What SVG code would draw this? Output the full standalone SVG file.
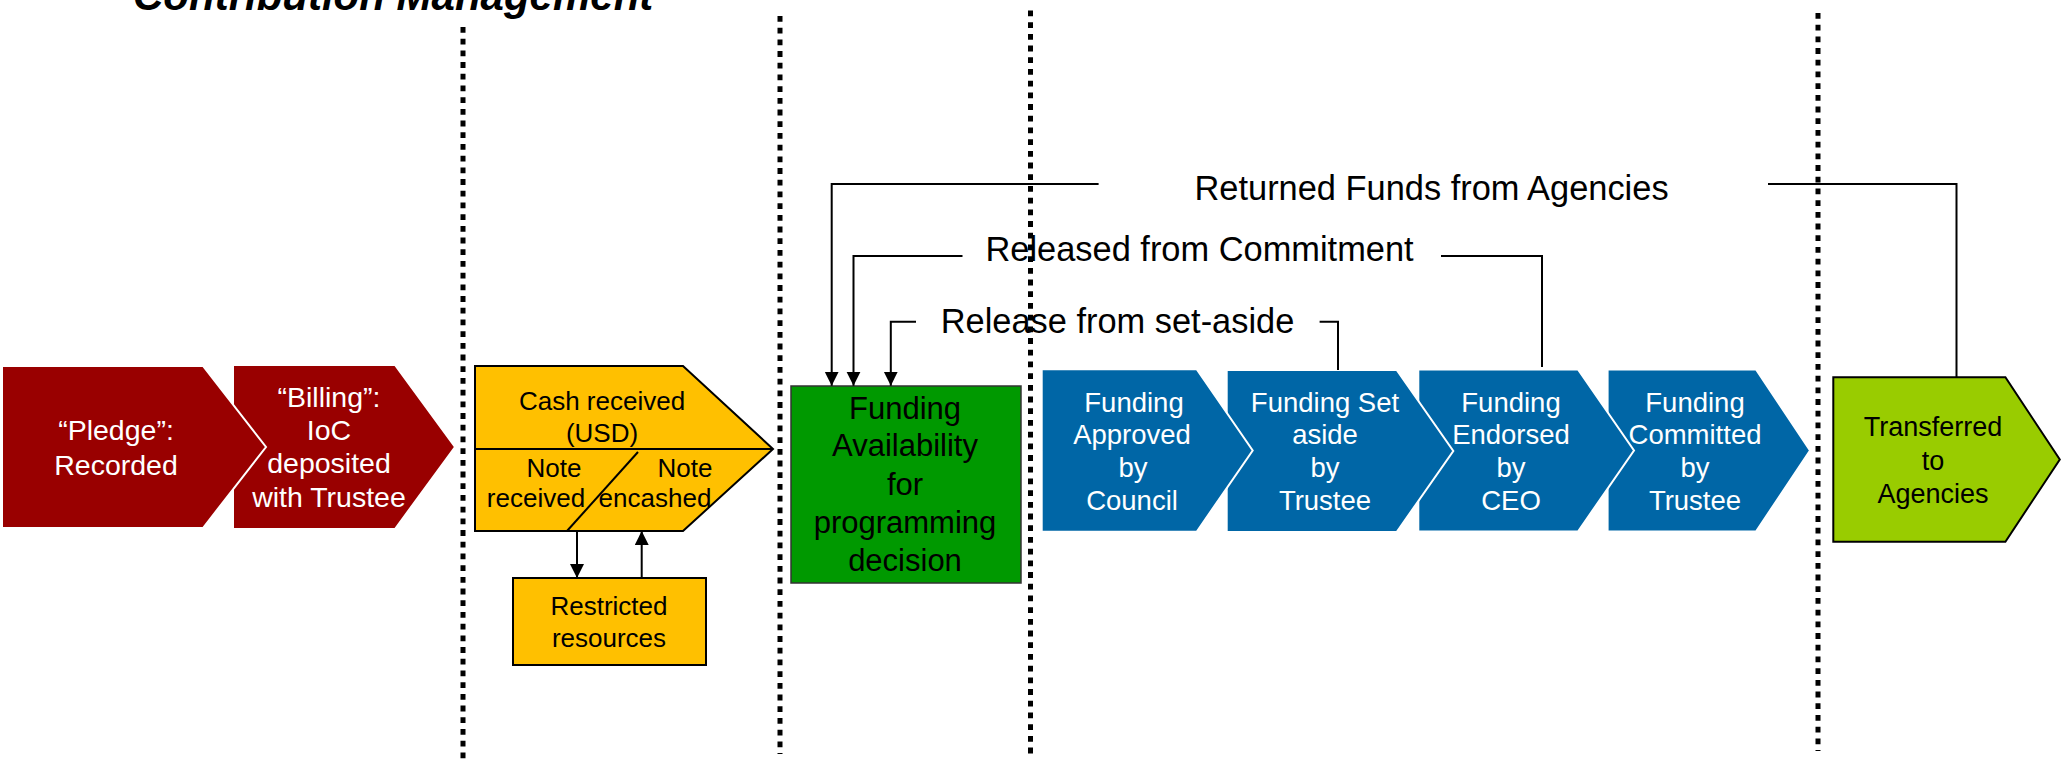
<svg xmlns="http://www.w3.org/2000/svg" width="2068" height="769" viewBox="0 0 2068 769">
<style>
text{font-family:"Liberation Sans",Arial,sans-serif;}
.w{fill:#ffffff;text-anchor:middle;}
.b{fill:#000000;text-anchor:middle;}
.dot{stroke:#000;stroke-width:5;stroke-dasharray:5.8 5.9;fill:none;}
.red{fill:#990000;stroke:#ffffff;stroke-width:2;}
.blue{fill:#0066A6;stroke:#ffffff;stroke-width:2;}
.yel{fill:#FFC000;stroke:#000;stroke-width:2;}
.con{fill:none;stroke:#000;stroke-width:2;}
.lbl{font-size:34.4px;fill:#000;}
</style>
<defs>
<marker id="ah" markerUnits="userSpaceOnUse" markerWidth="16" markerHeight="16" refX="14" refY="7" orient="auto">
<path d="M0,0 L14,7 L0,14 z" fill="#000"/>
</marker>
</defs>
<rect width="2068" height="769" fill="#ffffff"/>
<text x="133" y="10" font-size="42" font-weight="bold" font-style="italic" fill="#000">Contribution Management</text>
<g id="dividers">
<line class="dot" x1="463" y1="27" x2="463" y2="763"/>
<line class="dot" x1="780" y1="16" x2="780" y2="754"/>
<line class="dot" x1="1030.5" y1="10.5" x2="1030.5" y2="757"/>
<line class="dot" x1="1818" y1="13" x2="1818" y2="751"/>
</g>
<g id="billing">
<polygon class="red" points="233,365 395,365 455,447 395,529 233,529"/>
<text class="w" font-size="28.5" x="329" y="407">“Billing”:</text>
<text class="w" font-size="28.5" x="329" y="440">IoC</text>
<text class="w" font-size="28.5" x="329" y="473">deposited</text>
<text class="w" font-size="28.5" x="329" y="507">with Trustee</text>
</g>
<g id="pledge">
<polygon class="red" points="2,366 203,366 266,447 203,528 2,528"/>
<text class="w" font-size="28.5" x="116" y="440">“Pledge”:</text>
<text class="w" font-size="28.5" x="116" y="475">Recorded</text>
</g>
<g id="cash">
<polygon class="yel" points="475,366 683,366 773,449 683,531 475,531"/>
<line x1="475" y1="449" x2="773" y2="449" stroke="#000" stroke-width="2"/>
<line x1="638" y1="452" x2="567" y2="531" stroke="#000" stroke-width="2"/>
<text class="b" font-size="26" x="602" y="410">Cash received</text>
<text class="b" font-size="26" x="602" y="442">(USD)</text>
<text class="b" font-size="26" x="554" y="477">Note</text>
<text class="b" font-size="26" x="536" y="507">received</text>
<text class="b" font-size="26" x="685" y="477">Note</text>
<text class="b" font-size="26" x="655" y="507">encashed</text>
</g>
<g id="restricted">
<rect class="yel" x="513" y="578" width="193" height="87"/>
<text class="b" font-size="26" x="609" y="615">Restricted</text>
<text class="b" font-size="26" x="609" y="647">resources</text>
</g>
<g id="availability">
<rect x="791" y="386" width="230" height="197" fill="#009900" stroke="#333" stroke-width="1.5"/>
<text class="b" font-size="31" x="905" y="419">Funding</text>
<text class="b" font-size="31" x="905" y="456">Availability</text>
<text class="b" font-size="31" x="905" y="495">for</text>
<text class="b" font-size="31" x="905" y="533">programming</text>
<text class="b" font-size="31" x="905" y="571">decision</text>
</g>
<g id="committed">
<polygon class="blue" points="1607.6,369.5 1756,369.5 1810,450.5 1756,531.5 1607.6,531.5"/>
<text class="w" font-size="27.5" x="1695" y="412">Funding</text>
<text class="w" font-size="27.5" x="1695" y="444">Committed</text>
<text class="w" font-size="27.5" x="1695" y="477">by</text>
<text class="w" font-size="27.5" x="1695" y="510">Trustee</text>
</g>
<g id="endorsed">
<polygon class="blue" points="1418.3,369.5 1578,369.5 1634,450.5 1578,531.5 1418.3,531.5"/>
<text class="w" font-size="27.5" x="1511" y="412">Funding</text>
<text class="w" font-size="27.5" x="1511" y="444">Endorsed</text>
<text class="w" font-size="27.5" x="1511" y="477">by</text>
<text class="w" font-size="27.5" x="1511" y="510">CEO</text>
</g>
<g id="setaside">
<polygon class="blue" points="1226.7,370 1396.7,370 1453.3,451 1396.7,532 1226.7,532"/>
<text class="w" font-size="27.5" x="1325" y="412">Funding Set</text>
<text class="w" font-size="27.5" x="1325" y="444">aside</text>
<text class="w" font-size="27.5" x="1325" y="477">by</text>
<text class="w" font-size="27.5" x="1325" y="510">Trustee</text>
</g>
<g id="approved">
<polygon class="blue" points="1041.7,369.3 1196.7,369.3 1252.7,450.5 1196.7,531.7 1041.7,531.7"/>
<text class="w" font-size="27.5" x="1134" y="412">Funding</text>
<text class="w" font-size="27.5" x="1132" y="444">Approved</text>
<text class="w" font-size="27.5" x="1133" y="477">by</text>
<text class="w" font-size="27.5" x="1132" y="510">Council</text>
</g>
<g id="transferred">
<polygon points="1833.3,377.3 2005.4,377.3 2059.8,459.5 2005.4,541.7 1833.3,541.7" fill="#99CC00" stroke="#000" stroke-width="2"/>
<text class="b" font-size="27" x="1933" y="436">Transferred</text>
<text class="b" font-size="27" x="1933" y="470">to</text>
<text class="b" font-size="27" x="1933" y="503">Agencies</text>
</g>
<g id="connectors">
<path class="con" d="M577,531 V578" marker-end="url(#ah)"/>
<path class="con" d="M641.7,578 V531" marker-end="url(#ah)"/>
<path class="con" d="M1956.5,377 V184 H1768"/>
<path class="con" d="M1098.6,184 H831.7 V385.7" marker-end="url(#ah)"/>
<path class="con" d="M1542,367 V256 H1441"/>
<path class="con" d="M962.5,256 H853.5 V385.7" marker-end="url(#ah)"/>
<path class="con" d="M1338,370 V321.7 H1319.6"/>
<path class="con" d="M916,321.7 H890.8 V385.7" marker-end="url(#ah)"/>
<text class="lbl" x="1194.5" y="199.5">Returned Funds from Agencies</text>
<text class="lbl" x="985.5" y="260.5">Released from Commitment</text>
<text class="lbl" x="940.7" y="332.5">Release from set-aside</text>
</g>
</svg>
